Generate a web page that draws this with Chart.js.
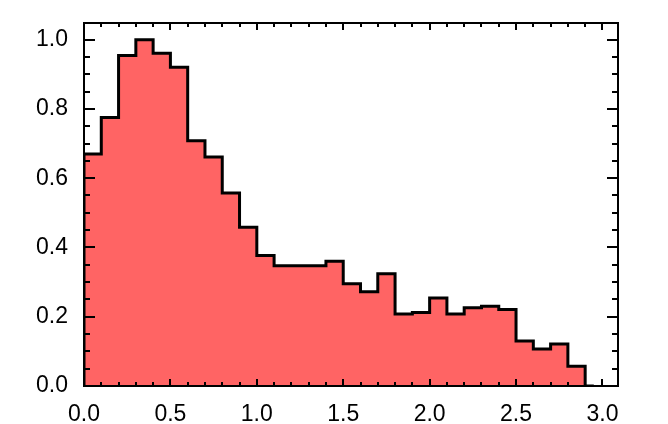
<!DOCTYPE html>
<html>
<head>
<meta charset="utf-8">
<script src="https://cdn.jsdelivr.net/npm/chart.js@4"></script>
<style>
  html, body { margin: 0; padding: 0; background: #fff; }
  #wrap { width: 668px; height: 424px; }
</style>
</head>
<body>
<div id="wrap"><canvas id="hist"></canvas></div>
<script>
// bin left edges and normalised counts
const binLeft = [0.0, 0.1, 0.2, 0.3, 0.4, 0.5, 0.6, 0.7, 0.8, 0.9,
                 1.0, 1.1, 1.2, 1.3, 1.4, 1.5, 1.6, 1.7, 1.8, 1.9,
                 2.0, 2.1, 2.2, 2.3, 2.4, 2.5, 2.6, 2.7, 2.8, 2.9];
const binValue = [0.67, 0.775, 0.954, 1.0, 0.961, 0.92, 0.708, 0.661, 0.557, 0.458,
                  0.377, 0.347, 0.347, 0.347, 0.36, 0.295, 0.272, 0.324, 0.208, 0.212,
                  0.254, 0.208, 0.226, 0.23, 0.221, 0.13, 0.107, 0.121, 0.057, 0.0];
const histEnd = 2.95;

const xTicks = [0.0, 0.5, 1.0, 1.5, 2.0, 2.5, 3.0];
const yTicks = [0.0, 0.2, 0.4, 0.6, 0.8, 1.0];

// step points: start at zero, then one point per bin edge
const points = [{x: binLeft[0], y: 0}];
binLeft.forEach((x, i) => points.push({x: x, y: binValue[i]}));
points.push({x: histEnd, y: 0});

// frame with inward ticks on all four sides
const framePlugin = {
  id: 'frame',
  afterDatasetsDraw(chart) {
    const {ctx, chartArea: a, scales: {x, y}} = chart;
    ctx.save();
    ctx.strokeStyle = '#000';
    ctx.lineWidth = 2;
    ctx.beginPath();
    for (let v = 0; v <= 3.0001; v += 0.1) {
      const px = Math.round(x.getPixelForValue(v));
      const major = Math.abs(v * 2 - Math.round(v * 2)) < 1e-6;
      const len = major ? 7 : 4;
      ctx.moveTo(px, a.bottom); ctx.lineTo(px, a.bottom - len);
      ctx.moveTo(px, a.top); ctx.lineTo(px, a.top + len);
    }
    for (let v = 0; v <= 1.0001; v += 0.05) {
      const py = Math.round(y.getPixelForValue(v));
      const major = Math.abs(v * 5 - Math.round(v * 5)) < 1e-6;
      const len = major ? 11 : 6;
      ctx.moveTo(a.left, py); ctx.lineTo(a.left + len, py);
      ctx.moveTo(a.right, py); ctx.lineTo(a.right - len, py);
    }
    ctx.stroke();
    ctx.strokeRect(a.left, a.top, a.right - a.left, a.bottom - a.top);
    ctx.restore();
  }
};

const tickFont = {family: 'Liberation Sans', size: 23};

new Chart(document.getElementById('hist'), {
  type: 'line',
  data: {
    datasets: [{
      data: points,
      stepped: 'before',
      fill: 'origin',
      backgroundColor: '#ff6464',
      borderColor: '#000',
      borderWidth: 3,
      pointRadius: 0,
      tension: 0
    }]
  },
  options: {
    responsive: true,
    maintainAspectRatio: false,
    animation: false,
    layout: {padding: {top: 23, right: 50, left: 0, bottom: 0}},
    plugins: {legend: {display: false}, tooltip: {enabled: false}},
    scales: {
      x: {
        type: 'linear',
        min: 0,
        max: 3.09,
        afterFit(s) { s.height = 38; },
        afterBuildTicks(s) { s.ticks = xTicks.map(v => ({value: v})); },
        grid: {display: false},
        border: {display: false},
        ticks: {
          color: '#000',
          font: tickFont,
          padding: 7,
          maxRotation: 0,
          callback: v => Number(v).toFixed(1)
        }
      },
      y: {
        min: 0,
        max: 1.048,
        afterFit(s) { s.width = 84; },
        afterBuildTicks(s) { s.ticks = yTicks.map(v => ({value: v})); },
        grid: {display: false},
        border: {display: false},
        ticks: {
          color: '#000',
          font: tickFont,
          padding: 8,
          callback: v => Number(v).toFixed(1)
        }
      }
    }
  },
  plugins: [framePlugin]
});
</script>
</body>
</html>
